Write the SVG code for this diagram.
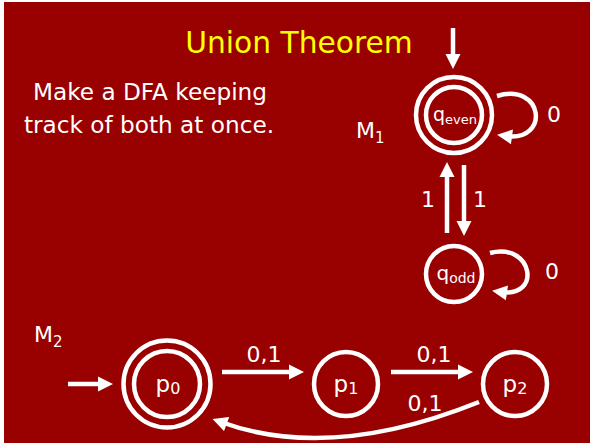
<svg xmlns="http://www.w3.org/2000/svg" width="592" height="443" viewBox="0 0 592 443">
<defs>
<style>
.bg{fill:#990000}
.st{fill:none;stroke:#fff;stroke-width:4.5}
.ln{fill:none;stroke:#fff;stroke-width:4.5;marker-end:url(#ah)}
text{font-family:"DejaVu Sans","Liberation Sans",sans-serif;fill:#fff}
.t{font-size:22px}
.body{font-size:23.2px}
.sub{font-size:15px}
.title{font-size:29.7px;fill:#ffff00}
</style>
<marker id="ah" markerUnits="userSpaceOnUse" markerWidth="16" markerHeight="16" viewBox="0 -8 15 16" refX="6" refY="0" orient="auto">
<path d="M0,-7.5 L15,0 L0,7.5 z" fill="#fff"/>
</marker>
</defs>
<rect x="0" y="0" width="592" height="443" fill="#fff"/>
<rect class="bg" x="4" y="2" width="586" height="441"/>
<text class="title" x="299" y="53" text-anchor="middle">Union Theorem</text>
<text class="body" x="150" y="100" text-anchor="middle">Make a DFA keeping</text>
<text class="body" x="149" y="133" text-anchor="middle">track of both at once.</text>
<text class="t" x="356" y="138">M<tspan class="sub" dy="5">1</tspan></text>
<text class="t" x="34" y="342">M<tspan class="sub" dy="5">2</tspan></text>
<g id="q_even">
<circle class="st" cx="454" cy="115" r="38"/>
<circle class="st" cx="454" cy="115" r="28"/>
<text x="455" y="121" text-anchor="middle" font-size="19">q<tspan font-size="13" dy="3">even</tspan></text>
</g>
<g id="q_odd">
<circle class="st" cx="454" cy="274" r="28"/>
<text x="456" y="280" text-anchor="middle" font-size="20">q<tspan font-size="14" dy="3">odd</tspan></text>
</g>
<g id="p0">
<circle class="st" cx="167" cy="384" r="43.5"/>
<circle class="st" cx="167" cy="384" r="33"/>
<text x="168" y="392" text-anchor="middle" font-size="23">p<tspan font-size="16" dy="2">0</tspan></text>
</g>
<g id="p1">
<circle class="st" cx="346" cy="384" r="32"/>
<text x="346" y="392" text-anchor="middle" font-size="23">p<tspan font-size="16" dy="2">1</tspan></text>
</g>
<g id="p2">
<circle class="st" cx="515" cy="384" r="32"/>
<text x="515" y="392" text-anchor="middle" font-size="23">p<tspan font-size="16" dy="2">2</tspan></text>
</g>
<g id="connectors">
<path class="ln" d="M453,28 L453,60"/>
<path class="ln" d="M497,96 C544,82 550,142 506,136"/>
<path class="ln" d="M447,233 L447,171"/>
<path class="ln" d="M464,165 L464,227"/>
<path class="ln" d="M490,253 C533,242 542,298 501,292"/>
<path class="ln" d="M68,384 L104,384"/>
<path class="ln" d="M222,372 L295,372"/>
<path class="ln" d="M391,372 L464,372"/>
<path class="ln" d="M479,402 Q330,462 221,422"/>
</g>
<text class="t" x="554" y="122" text-anchor="middle">0</text>
<text class="t" x="552" y="279" text-anchor="middle">0</text>
<text class="t" x="428" y="207" text-anchor="middle">1</text>
<text class="t" x="480" y="207" text-anchor="middle">1</text>
<text class="t" x="264" y="362" text-anchor="middle">0,1</text>
<text class="t" x="434" y="362" text-anchor="middle">0,1</text>
<text class="t" x="425" y="411" text-anchor="middle">0,1</text>
</svg>
